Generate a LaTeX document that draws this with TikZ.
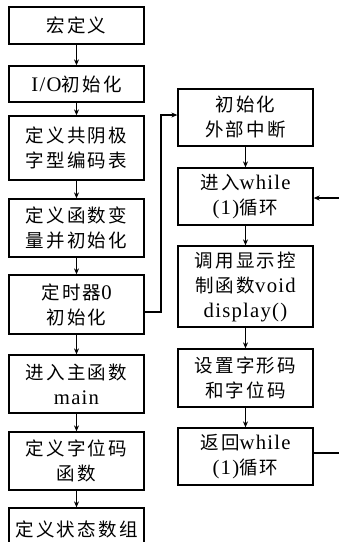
\documentclass[tikz,border=0pt]{standalone}
\usepackage{fontspec}
\setmainfont[LetterSpace=6,Scale=1.12]{Liberation Serif}
\newfontfamily\cjk[LetterSpace=12]{Noto Sans CJK SC}
\newcommand{\zh}[1]{{\cjk #1}}
\usetikzlibrary{arrows.meta}
\begin{document}
\begin{tikzpicture}[x=1pt,y=-1pt,
  box/.style={draw, line width=1.3pt, minimum width=135pt, inner sep=0pt, align=center,
    font=\fontsize{18.5}{25}\selectfont},
  conn/.style={line width=1.1pt, -{Stealth[length=6pt,width=5pt]}},
  plain/.style={line width=1.1pt}]
\useasboundingbox (0,0) rectangle (339,542);
% left column
\node[box, minimum height=37pt] (l1) at (76.5,25.5) {\zh{宏定义}};
\node[box, minimum height=36pt] (l2) at (76.5,84) {I/O\zh{初始化}};
\node[box, minimum height=64pt] (l3) at (76.5,148) {\zh{定义共阴极}\\\zh{字型编码表}};
\node[box, minimum height=58pt] (l4) at (76.5,228) {\zh{定义函数变}\\\zh{量并初始化}};
\node[box, minimum height=59pt] (l5) at (76.5,304.5) {\zh{定时器}0\\\zh{初始化}};
\node[box, minimum height=58pt] (l6) at (76.5,384) {\zh{进入主函数}\\main};
\node[box, minimum height=58pt] (l7) at (76.5,461) {\zh{定义字位码}\\\zh{函数}};
\node[box, minimum height=42pt] (l8) at (76.5,529) {\zh{定义状态数组}};
% right column
\node[box, minimum height=57pt] (r1) at (245.5,117.5) {\zh{初始化}\\\zh{外部中断}};
\node[box, minimum height=57pt] (r2) at (245.5,196.5) {\zh{进入}while\\(1)\zh{循环}};
\node[box, minimum height=81pt] (r3) at (245.5,286.5) {\zh{调用显示控}\\\zh{制函数}void\\display()};
\node[box, minimum height=58pt] (r4) at (245.5,378) {\zh{设置字形码}\\\zh{和字位码}};
\node[box, minimum height=57pt] (r5) at (245.5,456.5) {\zh{返回}while\\(1)\zh{循环}};
% connectors left
\draw[conn] (l1) -- (l2);
\draw[conn] (l2) -- (l3);
\draw[conn] (l3) -- (l4);
\draw[conn] (l4) -- (l5);
\draw[conn] (l5) -- (l6);
\draw[conn] (l6) -- (l7);
\draw[conn] (l7) -- (l8);
% connectors right
\draw[conn] (r1) -- (r2);
\draw[conn] (r2) -- (r3);
\draw[conn] (r3) -- (r4);
\draw[conn] (r4) -- (r5);
% cross link
\coordinate (a) at (144,312);
\coordinate (b) at (161,115);
\draw[conn] (a) -- (b |- a) -- (b) -- (b -| r1.west);
% loop ends
\coordinate (inR) at (339,198);
\coordinate (outR) at (339,453);
\draw[conn] (inR) -- (inR -| r2.east);
\draw[plain] (outR -| r5.east) -- (outR);
\end{tikzpicture}
\end{document}
